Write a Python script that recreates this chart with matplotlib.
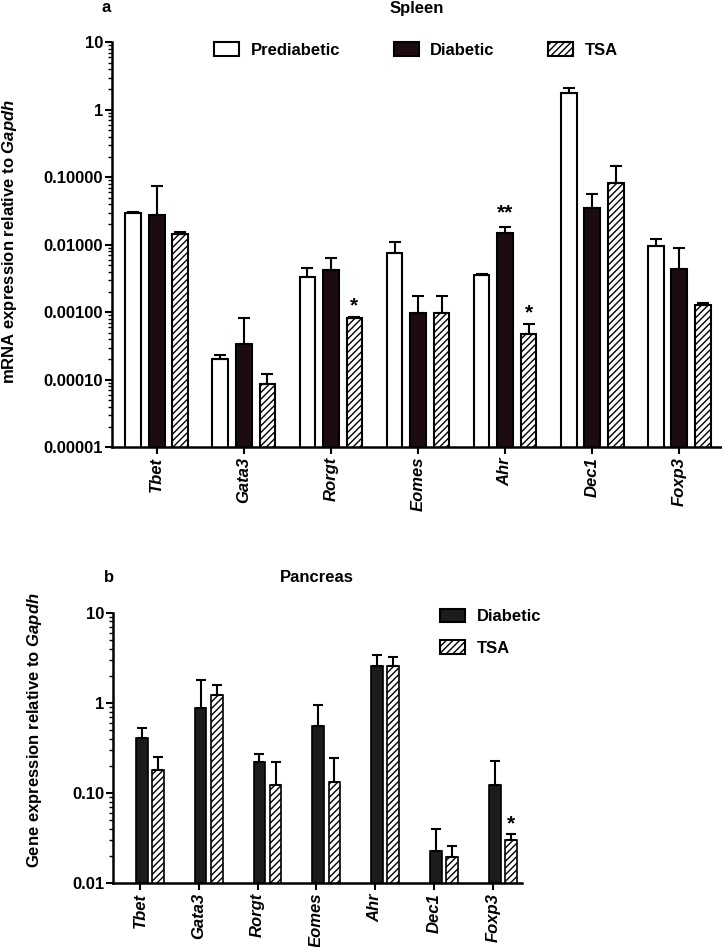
import numpy as np
import matplotlib
matplotlib.use("Agg")
import matplotlib.pyplot as plt
from matplotlib.ticker import FixedLocator, LogLocator, NullFormatter
from matplotlib.patches import Patch

plt.rcParams['font.family'] = ['Liberation Sans', 'DejaVu Sans']
plt.rcParams['font.weight'] = 'bold'
plt.rcParams['hatch.linewidth'] = 1.0
plt.rcParams['mathtext.fontset'] = 'custom'
plt.rcParams['mathtext.it'] = 'Liberation Sans:bold:italic'
plt.rcParams['mathtext.rm'] = 'Liberation Sans:bold'
plt.rcParams['mathtext.bf'] = 'Liberation Sans:bold'

genes = ["Tbet", "Gata3", "Rorgt", "Eomes", "Ahr", "Dec1", "Foxp3"]

# Spleen (panel a): means and upper error-bar tops
spl_pre = [0.0296, 0.000201, 0.00334, 0.0076, 0.0036, 1.77, 0.0096]
spl_pre_top = [0.031, 0.00023, 0.00459, 0.0109, 0.0037, 2.13, 0.0122]
spl_dia = [0.0274, 0.000344, 0.00417, 0.00096, 0.015, 0.035, 0.0043]
spl_dia_top = [0.0754, 0.00081, 0.00646, 0.00177, 0.0184, 0.056, 0.0091]
spl_tsa = [0.0143, 0.0000857, 0.00081, 0.00096, 0.00047, 0.081, 0.0013]
spl_tsa_top = [0.0152, 0.000123, 0.00085, 0.00177, 0.00067, 0.147, 0.00135]
spl_yticks = [1e-5, 1e-4, 1e-3, 1e-2, 1e-1, 1, 10]
spl_yticklabels = ["0.00001", "0.00010", "0.00100", "0.01000", "0.10000", "1", "10"]

# Pancreas (panel b)
pan_dia = [0.405, 0.885, 0.219, 0.55, 2.55, 0.0228, 0.122]
pan_dia_top = [0.523, 1.78, 0.271, 0.95, 3.42, 0.0397, 0.225]
pan_tsa = [0.179, 1.22, 0.122, 0.134, 2.56, 0.0196, 0.030]
pan_tsa_top = [0.253, 1.58, 0.221, 0.247, 3.25, 0.0257, 0.0349]
pan_yticks = [0.01, 0.1, 1, 10]
pan_yticklabels = ["0.01", "0.10", "1", "10"]

DIA_COLOR_A = "#1c0c10"
DIA_COLOR_B = "#1c1c1c"

fig = plt.figure(figsize=(7.22, 9.47), dpi=100)


def style_axis(ax, yticks, yticklabels):
    ax.set_yscale('log')
    for s in ['top', 'right']:
        ax.spines[s].set_visible(False)
    for s in ['left', 'bottom']:
        ax.spines[s].set_linewidth(1.8)
    ax.yaxis.set_major_locator(FixedLocator(yticks))
    ax.set_yticklabels(yticklabels, fontsize=12, fontweight='bold')
    ax.yaxis.set_minor_locator(LogLocator(base=10, subs=np.arange(2, 10), numticks=20))
    ax.yaxis.set_minor_formatter(NullFormatter())
    ax.tick_params(axis='y', which='major', direction='out', length=5, width=1.5, pad=1)
    ax.tick_params(axis='y', which='minor', direction='out', length=3, width=1.0)
    ax.tick_params(axis='x', which='major', direction='out', length=5, width=1.5, pad=2)


def err(vals, tops):
    v = np.array(vals)
    t = np.array(tops)
    return [np.zeros_like(v), t - v]


# ---------------- Panel a ----------------
ax1 = fig.add_axes([0.1547, 0.5277, 0.8453, 0.4277])
x = np.arange(len(genes))
w = 0.18
off = 0.27
ekw = dict(elinewidth=1.5, capthick=1.5, capsize=4, ecolor='black')
ax1.bar(x - off, spl_pre, w, color='white', edgecolor='black', linewidth=1.5,
        yerr=err(spl_pre, spl_pre_top), error_kw=ekw, zorder=2)
ax1.bar(x, spl_dia, w, color=DIA_COLOR_A, edgecolor='black', linewidth=1.5,
        yerr=err(spl_dia, spl_dia_top), error_kw=ekw, zorder=2)
ax1.bar(x + off, spl_tsa, w, color='white', edgecolor='black', linewidth=1.5,
        hatch='/////', yerr=err(spl_tsa, spl_tsa_top), error_kw=ekw, zorder=2)
style_axis(ax1, spl_yticks, spl_yticklabels)
ax1.set_ylim(1e-5, 10)
ax1.set_xlim(-0.517, 6.49)
ax1.set_xticks(x)
ax1.set_xticklabels(genes, rotation=90, fontsize=12, fontstyle='italic', fontweight='bold')

# significance stars (panel a)
ax1.annotate("*", (x[2] + off, spl_tsa_top[2]), xytext=(0, 1), textcoords='offset points',
             ha='center', va='bottom', fontsize=15, fontweight='bold')
ax1.annotate("**", (x[4], spl_dia_top[4]), xytext=(0, 3), textcoords='offset points',
             ha='center', va='bottom', fontsize=15, fontweight='bold')
ax1.annotate("*", (x[4] + off, spl_tsa_top[4]), xytext=(0, 1), textcoords='offset points',
             ha='center', va='bottom', fontsize=15, fontweight='bold')

h_pre = Patch(facecolor='white', edgecolor='black', linewidth=1.5)
h_dia = Patch(facecolor=DIA_COLOR_A, edgecolor='black', linewidth=1.5)
h_tsa = Patch(facecolor='white', edgecolor='black', linewidth=1.5, hatch='/////')
leg1 = ax1.legend([h_pre, h_dia, h_tsa], ["Prediabetic", "Diabetic", "TSA"], ncol=3,
                  loc='center', bbox_to_anchor=(416 / 722, 1 - 50 / 947), bbox_transform=fig.transFigure,
                  frameon=False, prop={'weight': 'bold', 'size': 12},
                  handlelength=1.5, handleheight=0.85, handletextpad=0.7, columnspacing=3.2)

fig.text(106 / 722, 1 - 8 / 947, "a", ha='center', va='center', fontsize=12, fontweight='bold')
fig.text(417 / 722, 1 - 8 / 947, "Spleen", ha='center', va='center', fontsize=12, fontweight='bold')
fig.text(10 / 722, 0.745, "mRNA expression relative to $\\it{Gapdh}$", rotation=90,
         ha='center', va='center', fontsize=12, fontweight='bold')

# ---------------- Panel b ----------------
ax2 = fig.add_axes([0.1565, 0.0673, 0.5661, 0.2857])
w2 = 0.2
off2 = 0.275
ekw2 = dict(elinewidth=1.5, capthick=1.5, capsize=3.5, ecolor='black')
ax2.bar(x + 0.03, pan_dia, w2, color=DIA_COLOR_B, edgecolor='black', linewidth=1.2,
        yerr=err(pan_dia, pan_dia_top), error_kw=ekw2, zorder=2)
ax2.bar(x + 0.03 + off2, pan_tsa, w2, color='white', edgecolor='black', linewidth=1.2,
        hatch='/////', yerr=err(pan_tsa, pan_tsa_top), error_kw=ekw2, zorder=2)
style_axis(ax2, pan_yticks, pan_yticklabels)
ax2.set_ylim(0.01, 10)
ax2.set_xlim(-0.46, 6.49)
ax2.set_xticks(x)
ax2.set_xticklabels(genes, rotation=90, fontsize=12, fontstyle='italic', fontweight='bold')

ax2.annotate("*", (x[6] + 0.03 + off2, pan_tsa_top[6]), xytext=(0, 1), textcoords='offset points',
             ha='center', va='bottom', fontsize=15, fontweight='bold')

h_dia2 = Patch(facecolor=DIA_COLOR_B, edgecolor='black', linewidth=1.5)
h_tsa2 = Patch(facecolor='white', edgecolor='black', linewidth=1.5, hatch='/////')
leg2 = ax2.legend([h_dia2, h_tsa2], ["Diabetic", "TSA"],
                  loc='upper left', bbox_to_anchor=(425 / 722, 1 - 594 / 947), bbox_transform=fig.transFigure,
                  frameon=False, prop={'weight': 'bold', 'size': 12},
                  handlelength=1.5, handleheight=0.85, handletextpad=0.7, labelspacing=0.95)

fig.text(109 / 722, 1 - 577 / 947, "b", ha='center', va='center', fontsize=12, fontweight='bold')
fig.text(317 / 722, 1 - 577 / 947, "Pancreas", ha='center', va='center', fontsize=12, fontweight='bold')
fig.text(35 / 722, 0.229, "Gene expression relative to $\\it{Gapdh}$", rotation=90,
         ha='center', va='center', fontsize=12, fontweight='bold')

fig.savefig("out.png", dpi=100)
